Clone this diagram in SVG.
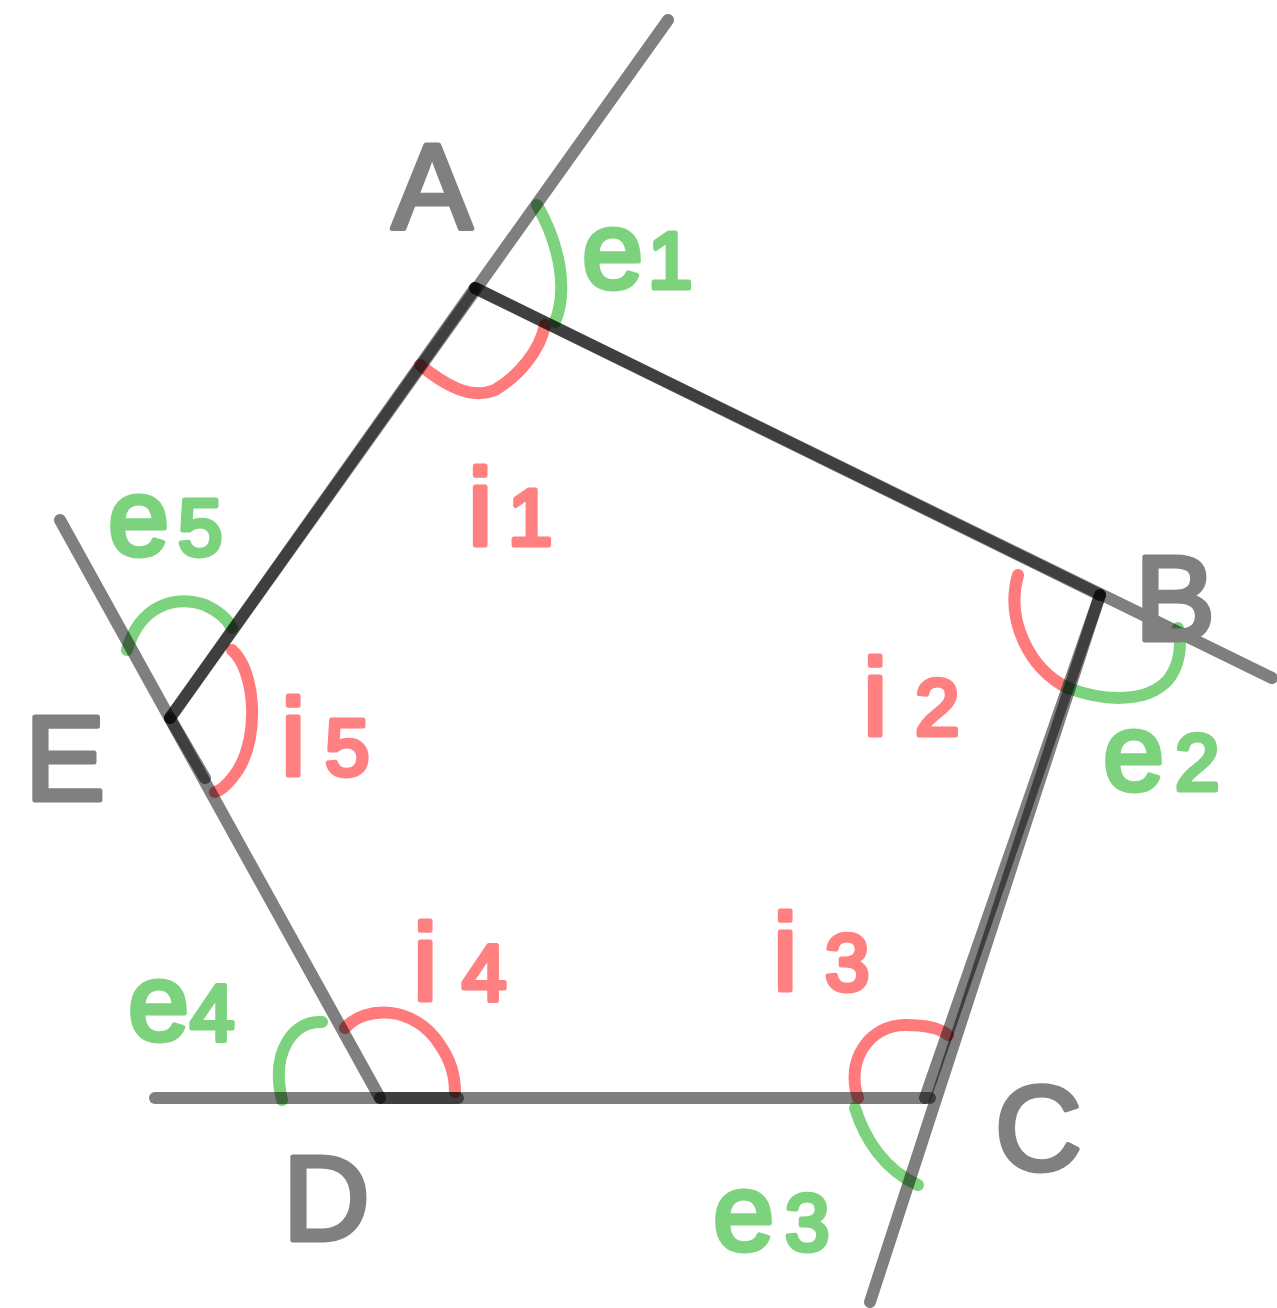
<svg xmlns="http://www.w3.org/2000/svg" width="1277" height="1308" viewBox="0 0 1277 1308">
<style>
.ln{stroke:#000;stroke-opacity:0.5;stroke-width:12;stroke-linecap:round;stroke-linejoin:round;fill:none}
.red{stroke:#ff7a7a;stroke-width:12;stroke-linecap:round;fill:none}
.grn{stroke:#7dd27d;stroke-width:12;stroke-linecap:round;fill:none}
text{font-family:"Liberation Sans",Arial,sans-serif;stroke-width:5;stroke-linejoin:round}
.tg{fill:#808080;stroke:#808080;font-size:120px}
.tr{fill:#ff8080;stroke:#ff8080;font-size:110px}
.te{fill:#7dd27d;stroke:#7dd27d;font-size:110px}
.sub{font-size:80px}
</style>
<rect width="1277" height="1308" fill="#fff"/>
<g id="angles">
<path class="red" d="M420,365 C445,385 470,400 495,390 C520,375 540,350 545,325"/>
<path class="grn" d="M537,205 C560,245 568,290 555,322"/>
<path class="red" d="M1018,575 C1005,620 1030,670 1068,688"/>
<path class="grn" d="M1068,688 C1100,700 1145,705 1168,680 C1180,665 1182,645 1178,628"/>
<path class="red" d="M858,1098 C845,1060 870,1025 905,1025 C925,1025 940,1028 948,1035"/>
<path class="grn" d="M855,1108 C865,1140 885,1170 918,1185"/>
<path class="red" d="M345,1028 C365,1005 415,1005 440,1045 C452,1062 455,1078 455,1092"/>
<path class="grn" d="M322,1022 C295,1020 270,1050 282,1100"/>
<path class="red" d="M232,650 C255,670 260,735 238,770 C230,782 222,790 215,792"/>
<path class="grn" d="M127,650 C140,605 175,595 205,605 C220,612 228,620 232,628"/>
</g>
<g id="connectors">
<line class="ln" x1="668" y1="20" x2="170" y2="718"/>
<line class="ln" x1="475" y1="288" x2="170" y2="718"/>
<line class="ln" x1="475" y1="288" x2="1272" y2="678"/>
<line class="ln" x1="475" y1="288" x2="1100" y2="595"/>
<line class="ln" x1="1100" y1="595" x2="870" y2="1302"/>
<line class="ln" x1="1100" y1="595" x2="925" y2="1098"/>
<line class="ln" x1="155" y1="1098" x2="930" y2="1098"/>
<line class="ln" x1="380" y1="1098" x2="458" y2="1098"/>
<line class="ln" x1="60" y1="520" x2="380" y2="1098"/>
<line class="ln" x1="170" y1="718" x2="205" y2="778"/>
</g>
<g id="node-A"><text class="tg" x="392" y="228">A</text></g>
<g id="node-B"><text class="tg" x="1135" y="640">B</text></g>
<g id="node-C"><text class="tg" x="995" y="1170">C</text></g>
<g id="node-D"><text class="tg" x="283" y="1240">D</text></g>
<g id="node-E"><text class="tg" x="25" y="800">E</text></g>
<g id="label-e1"><text class="te" x="582" y="288">e<tspan class="sub" x="648">1</tspan></text></g>
<g id="label-e2"><text class="te" x="1103" y="790">e<tspan class="sub" x="1175">2</tspan></text></g>
<g id="label-e3"><text class="te" x="713" y="1250">e<tspan class="sub" x="785">3</tspan></text></g>
<g id="label-e4"><text class="te" x="128" y="1040">e<tspan class="sub" x="190">4</tspan></text></g>
<g id="label-e5"><text class="te" x="108" y="555">e<tspan class="sub" x="178">5</tspan></text></g>
<g id="label-i1"><text class="tr" x="468" y="545">i<tspan class="sub" x="508">1</tspan></text></g>
<g id="label-i2"><text class="tr" x="863" y="735">i<tspan class="sub" x="915">2</tspan></text></g>
<g id="label-i3"><text class="tr" x="773" y="990">i<tspan class="sub" x="825">3</tspan></text></g>
<g id="label-i4"><text class="tr" x="413" y="1000">i<tspan class="sub" x="462">4</tspan></text></g>
<g id="label-i5"><text class="tr" x="281" y="775">i<tspan class="sub" x="325">5</tspan></text></g>
</svg>
